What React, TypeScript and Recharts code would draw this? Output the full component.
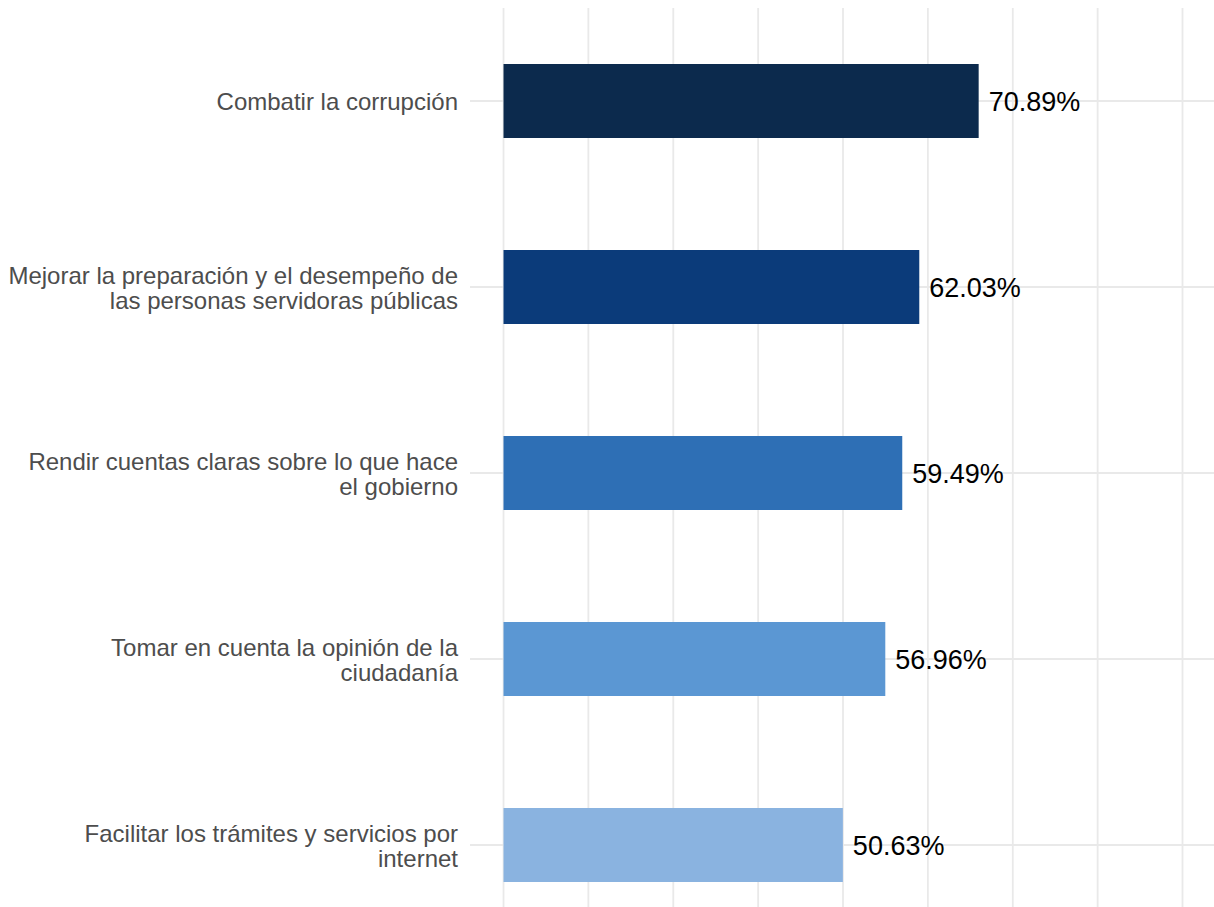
import React from 'react';
import { BarChart, Bar, XAxis, YAxis, CartesianGrid, Cell, LabelList } from 'recharts';

// categories top to bottom, with the line breaks used on the axis
const categories = [
  'Combatir la corrupción',
  'Mejorar la preparación y el desempeño de las personas servidoras públicas',
  'Rendir cuentas claras sobre lo que hace el gobierno',
  'Tomar en cuenta la opinión de la ciudadanía',
  'Facilitar los trámites y servicios por internet',
];
const labelLines = [
  ['Combatir la corrupción'],
  ['Mejorar la preparación y el desempeño de', 'las personas servidoras públicas'],
  ['Rendir cuentas claras sobre lo que hace', 'el gobierno'],
  ['Tomar en cuenta la opinión de la', 'ciudadanía'],
  ['Facilitar los trámites y servicios por', 'internet'],
];
const values = [70.89, 62.03, 59.49, 56.96, 50.63];
const colors = ['#0C2A4D', '#0B3B7A', '#2E6FB5', '#5B97D3', '#8AB3E0'];
const gridTicks = [0, 12.66, 25.33, 37.99, 50.65, 63.31, 75.98, 88.64, 101.3];
const xDomain: [number, number] = [-5.0, 106.0];

const data = categories.map((name, i) => ({ name, value: values[i] }));

const FONT = '"Liberation Sans", Arial, Helvetica, sans-serif';

const CategoryTick = (props: any) => {
  const { x, y, index } = props;
  const lines = labelLines[index] || [];
  const lh = 25;
  const startDy = -((lines.length - 1) * lh) / 2;
  return (
    <text x={x} y={y} textAnchor="end" fill="#4D4D4D" fontSize={24} fontFamily={FONT} dominantBaseline="central">
      {lines.map((l, i) => (
        <tspan key={i} x={x} dy={i === 0 ? startDy : lh}>
          {l}
        </tspan>
      ))}
    </text>
  );
};

// vertical grid lines at gridTicks, through the x axis scale
const verticalLines = ({ xAxis, offset }: any) => {
  if (xAxis && typeof xAxis.scale === 'function') {
    return gridTicks.map((t) => xAxis.scale(t));
  }
  return gridTicks.map(
    (t) => offset.left + ((t - xDomain[0]) / (xDomain[1] - xDomain[0])) * offset.width
  );
};

// horizontal grid lines only at category centres
const horizontalLines = ({ yAxis, offset }: any) => {
  const s = yAxis && yAxis.scale;
  if (s && typeof s === 'function' && typeof s.bandwidth === 'function') {
    return categories.map((c) => s(c) + s.bandwidth() / 2);
  }
  const band = offset.height / categories.length;
  return categories.map((_, i) => offset.top + band * (i + 0.5));
};

const App: React.FC = () => {
  return (
    <div style={{ position: 'absolute', left: 0, top: 0, width: 1214, height: 907, overflow: 'hidden', background: '#fff' }}>
      <BarChart
        width={1214}
        height={940}
        data={data}
        layout="vertical"
        margin={{ top: 8, right: 0, bottom: 2, left: 0 }}
      >
        <CartesianGrid
          stroke="#E9E9E9"
          strokeWidth={1.8}
          verticalCoordinatesGenerator={verticalLines}
          horizontalCoordinatesGenerator={horizontalLines}
        />
        <XAxis
          type="number"
          domain={xDomain}
          ticks={gridTicks}
          tick={false}
          axisLine={false}
          tickLine={false}
          height={0}
        />
        <YAxis
          type="category"
          dataKey="name"
          width={470}
          axisLine={false}
          tickLine={false}
          tickSize={0}
          tickMargin={12}
          interval={0}
          tick={<CategoryTick />}
        />
        <Bar dataKey="value" barSize={74} isAnimationActive={false}>
          {data.map((_, i) => (
            <Cell key={`cell-${i}`} fill={colors[i]} />
          ))}
          <LabelList
            dataKey="value"
            position="right"
            offset={10}
            fill="#000"
            fontSize={27}
            fontFamily={FONT}
            formatter={(v: any) => `${Number(v).toFixed(2)}%`}
          />
        </Bar>
      </BarChart>
    </div>
  );
};

export default App;
